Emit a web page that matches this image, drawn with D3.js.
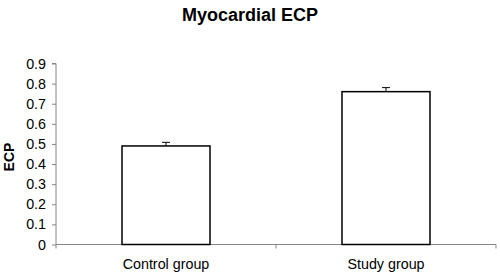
<!DOCTYPE html>
<html><head><meta charset="utf-8">
<script src="https://cdn.jsdelivr.net/npm/d3@7"></script>
<style>body{margin:0;background:#fff}svg{display:block}text{font-family:"Liberation Sans",Arial,sans-serif}</style>
</head><body><svg id="c" width="500" height="273"></svg>
<script>
const categories = ["Control group", "Study group"];
const values = [0.49, 0.76];
const errors = [0.018, 0.02];
const yTicks = [0, 0.1, 0.2, 0.3, 0.4, 0.5, 0.6, 0.7, 0.8, 0.9];
const title = "Myocardial ECP";
const yLabel = "ECP";

(function(){
const svg = d3.select("#c");
const mLeft = 56, mRight = 496, mTop = 63.5, mBottom = 244.5;
const x = d3.scaleBand().domain(categories).range([mLeft, mRight]).paddingInner(0.6).paddingOuter(0.3);
const y = d3.scaleLinear().domain([0, 0.9]).range([mBottom, mTop]);
const axisColor = "#868686";

const ya = svg.append("g").attr("transform", `translate(${mLeft},0)`)
  .call(d3.axisLeft(y).tickValues(yTicks).tickFormat(d => String(+d.toFixed(1))).tickSize(4).tickPadding(6));
ya.select(".domain").attr("stroke", axisColor).attr("d", `M-4,${mTop}H0V${mBottom}`);
ya.selectAll(".tick line").attr("stroke", axisColor);
ya.selectAll(".tick text").attr("fill", "#000").style("font-size", "14.3px");

const xa = svg.append("g").attr("transform", `translate(0,${mBottom})`);
xa.append("line").attr("x1", mLeft).attr("x2", mRight).attr("stroke", axisColor);
const bounds = [mLeft, mLeft + (mRight-mLeft)/2, mRight];
xa.selectAll(".bt").data(bounds).enter().append("line")
  .attr("x1", d => d).attr("x2", d => d).attr("y1", 0).attr("y2", 4).attr("stroke", axisColor);
xa.selectAll(".lbl").data(categories).enter().append("text")
  .attr("x", d => x(d) + x.bandwidth()/2).attr("y", 24.5)
  .attr("text-anchor", "middle").style("font-size", "14.3px").text(d => d);

svg.selectAll(".bar").data(categories).enter().append("rect")
  .attr("x", d => x(d)).attr("width", x.bandwidth())
  .attr("y", (d,i) => y(values[i])).attr("height", (d,i) => y(0) - y(values[i]))
  .attr("fill", "#fff").attr("stroke", "#000").attr("stroke-width", 1.5);

categories.forEach((c,i) => {
  const cx = x(c) + x.bandwidth()/2;
  svg.append("line").attr("x1", cx).attr("x2", cx).attr("y1", y(values[i])).attr("y2", y(values[i]+errors[i])).attr("stroke", "#000");
  svg.append("line").attr("x1", cx-4).attr("x2", cx+4).attr("y1", y(values[i]+errors[i])).attr("y2", y(values[i]+errors[i])).attr("stroke", "#000");
});

svg.append("text").attr("x", 250).attr("y", 20.5).attr("text-anchor", "middle")
  .style("font-size", "18px").style("font-weight", "bold").text(title);
svg.append("text").attr("transform", "translate(14,157) rotate(-90)").attr("text-anchor", "middle")
  .style("font-size", "14px").style("font-weight", "bold").text(yLabel);
})();
</script></body></html>
